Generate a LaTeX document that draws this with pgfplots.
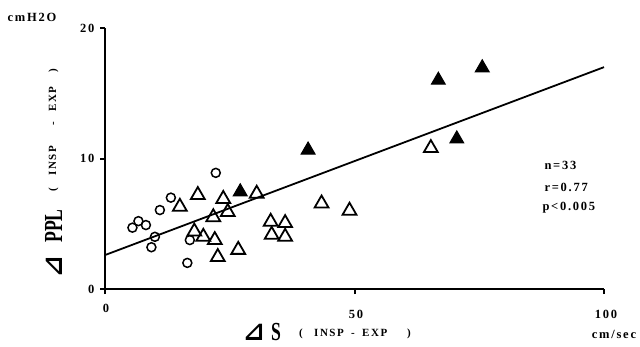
\documentclass[border=0pt]{standalone}
\usepackage{pgfplots}
\pgfplotsset{compat=1.18}
\usepackage{graphicx}
\usepackage{fontspec}
\setmainfont{Liberation Serif}
\newfontfamily\sym{DejaVu Sans}
\newfontfamily\spc[LetterSpace=14]{Liberation Serif}
\newcommand{\tk}{\spc\bfseries\fontsize{12.5}{12.5}\selectfont}
\newcommand{\sm}{\spc\bfseries\fontsize{11}{11}\selectfont}
\newcommand{\bg}[1]{\scalebox{0.68}[1]{\bfseries\fontsize{26}{26}\selectfont #1}}
\newcommand{\tri}{\sym\bfseries\fontsize{26}{26}\selectfont ⊿}
\begin{document}
\begin{tikzpicture}[x=1pt,y=1pt]
\useasboundingbox (0,0) rectangle (640,346);
\begin{axis}[at={(105pt,57pt)}, anchor=south west, scale only axis,
  width=499pt, height=261pt, xmin=0, xmax=100, ymin=0, ymax=20,
  axis lines*=left, axis line style={line width=2.2pt},
  xtick={0,50,100}, ytick={0,10,20}, xticklabels={},
  tick align=outside, major tick length=5pt,
  tick style={line width=2pt, black},
  /pgf/number format/assume math mode=true,
  yticklabel style={font=\tk, xshift=-2pt},
  clip=false]
\addplot[no marks, line width=1.8pt] coordinates {(0,2.6) (100,17.0)};
\addplot[only marks, mark=o, mark size=4.5pt, mark options={line width=1.5pt, black}] coordinates {
(22.2,8.9)(13.2,7.0)(11.0,6.05)(5.5,4.7)(6.7,5.2)(8.2,4.9)(10.0,4.0)(9.3,3.2)(17.0,3.75)(16.5,2.0)};
\addplot[only marks, mark=triangle, mark size=8pt, mark options={line width=1.8pt, black}] coordinates {
(15.0,6.3)(18.6,7.2)(23.7,6.9)(30.4,7.3)(21.7,5.5)(24.6,5.9)(17.9,4.4)(19.7,4.0)(22.0,3.75)(22.6,2.45)(26.7,3.0)(33.2,5.15)(36.1,5.05)(33.4,4.15)(36.1,4.0)(43.4,6.55)(49.0,6.0)(65.3,10.8)};
\addplot[only marks, mark=triangle*, mark size=8pt, mark options={line width=1pt, black, fill=black}] coordinates {
(27.1,7.45)(40.7,10.65)(66.8,16.0)(75.6,16.95)(70.5,11.5)};
\end{axis}
\node[font=\tk] at (32,329) {cmH2O};
\node[font=\tk] at (106,38) {0};
\node[font=\tk] at (356,32) {50};
\node[font=\tk] at (606,32) {100};
\node[font=\tk] at (614,12) {cm/sec};
% x axis title
\node[anchor=base west, inner sep=0pt] at (243,6) {\tri};
\node[anchor=base west, inner sep=0pt] at (271,6) {\bg{S}};
\node[anchor=base west, inner sep=0pt, font=\sm] at (299,10) {(};
\node[anchor=base west, inner sep=0pt, font=\sm] at (314,10) {INSP};
\node[anchor=base west, inner sep=0pt, font=\sm] at (351,10) {-};
\node[anchor=base west, inner sep=0pt, font=\sm] at (362,10) {EXP};
\node[anchor=base west, inner sep=0pt, font=\sm] at (407,10) {)};
% y axis title
\node[rotate=90, anchor=base west, inner sep=0pt] at (62,68) {\tri};
\node[rotate=90, anchor=base west, inner sep=0pt] at (62,103) {\bg{PPL}};
\node[rotate=90, anchor=base west, inner sep=0pt, font=\sm] at (56,154) {(};
\node[rotate=90, anchor=base west, inner sep=0pt, font=\sm] at (56,170) {INSP};
\node[rotate=90, anchor=base west, inner sep=0pt, font=\sm] at (56,220) {-};
\node[rotate=90, anchor=base west, inner sep=0pt, font=\sm] at (56,234) {EXP};
\node[rotate=90, anchor=base west, inner sep=0pt, font=\sm] at (56,273) {)};
% stats
\node[anchor=west, font=\tk] at (541,181) {n=33};
\node[anchor=west, font=\tk] at (541,159) {r=0.77};
\node[anchor=west, font=\tk] at (539,138) {p<0.005};
\end{tikzpicture}
\end{document}
